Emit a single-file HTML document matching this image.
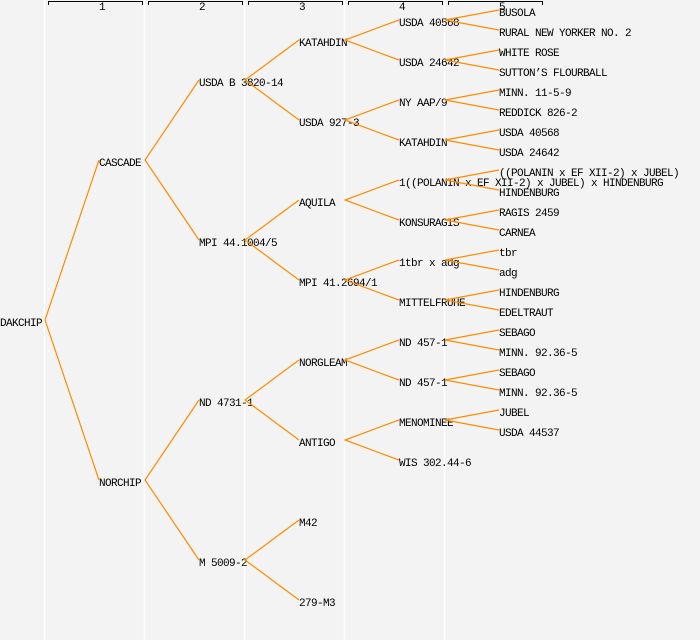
<!DOCTYPE html>
<html><head><meta charset="utf-8"><style>
html,body{margin:0;padding:0;background:#f3f3f3;}
svg{display:block}
text{font-family:"Liberation Mono","DejaVu Sans Mono",monospace;font-size:11px;letter-spacing:-0.6px;fill:#000}
</style></head><body>
<svg width="700" height="640" viewBox="0 0 700 640" xmlns="http://www.w3.org/2000/svg">
<rect width="700" height="640" fill="#f3f3f3"/>
<g stroke="#fff" stroke-width="1.5">
<line x1="44.5" y1="0" x2="44.5" y2="640"/><line x1="144.5" y1="0" x2="144.5" y2="640"/>
<line x1="244.5" y1="0" x2="244.5" y2="640"/><line x1="344.5" y1="0" x2="344.5" y2="640"/>
<line x1="444.5" y1="0" x2="444.5" y2="640"/>
</g>
<g stroke="#000" stroke-width="1" fill="none">
<path d="M48.5 5V1.5H142.5V5"/><path d="M148.5 5V1.5H242.5V5"/><path d="M248.5 5V1.5H342.5V5"/>
<path d="M348.5 5V1.5H442.5V5"/><path d="M448.5 5V1.5H542.5V5"/>
</g>
<g style="font-size:8px;letter-spacing:0" text-anchor="middle">
<text x="102" y="10">1</text><text x="202" y="10">2</text><text x="302" y="10">3</text><text x="402" y="10">4</text><text x="502" y="10">5</text>
</g>
<text x="0" y="326">DAKCHIP</text>
<text x="99" y="166">CASCADE</text><text x="99" y="486">NORCHIP</text>
<text x="199" y="86">USDA B 3820-14</text><text x="199" y="246">MPI 44.1004/5</text>
<text x="199" y="406">ND 4731-1</text><text x="199" y="566">M 5009-2</text>
<text x="299" y="46">KATAHDIN</text><text x="299" y="126">USDA 927-3</text>
<text x="299" y="206">AQUILA</text><text x="299" y="286">MPI 41.2694/1</text>
<text x="299" y="366">NORGLEAM</text><text x="299" y="446">ANTIGO</text>
<text x="299" y="526">M42</text><text x="299" y="606">279-M3</text>
<text x="399" y="26">USDA 40568</text><text x="399" y="66">USDA 24642</text>
<text x="399" y="106">NY AAP/9</text><text x="399" y="146">KATAHDIN</text>
<text x="399" y="186">1((POLANIN x EF XII-2) x JUBEL) x HINDENBURG</text><text x="399" y="226">KONSURAGIS</text>
<text x="399" y="266">1tbr x adg</text><text x="399" y="306">MITTELFRUHE</text>
<text x="399" y="346">ND 457-1</text><text x="399" y="386">ND 457-1</text>
<text x="399" y="426">MENOMINEE</text><text x="399" y="466">WIS 302.44-6</text>
<text x="499" y="16">BUSOLA</text><text x="499" y="36">RURAL NEW YORKER NO. 2</text>
<text x="499" y="56">WHITE ROSE</text><text x="499" y="76">SUTTON’S FLOURBALL</text>
<text x="499" y="96">MINN. 11-5-9</text><text x="499" y="116">REDDICK 826-2</text>
<text x="499" y="136">USDA 40568</text><text x="499" y="156">USDA 24642</text>
<text x="499" y="176">((POLANIN x EF XII-2) x JUBEL)</text><text x="499" y="196">HINDENBURG</text>
<text x="499" y="216">RAGIS 2459</text><text x="499" y="236">CARNEA</text>
<text x="499" y="256">tbr</text><text x="499" y="276">adg</text>
<text x="499" y="296">HINDENBURG</text><text x="499" y="316">EDELTRAUT</text>
<text x="499" y="336">SEBAGO</text><text x="499" y="356">MINN. 92.36-5</text>
<text x="499" y="376">SEBAGO</text><text x="499" y="396">MINN. 92.36-5</text>
<text x="499" y="416">JUBEL</text><text x="499" y="436">USDA 44537</text>
<g stroke="#ff8c00" stroke-width="1.2" fill="none">
<path d="M99 160L45 320L99 480"/>
<path d="M199 80L145 160L199 240"/><path d="M199 400L145 480L199 560"/>
<path d="M299 40L245 80L299 120"/><path d="M299 200L245 240L299 280"/>
<path d="M299 360L245 400L299 440"/><path d="M299 520L245 560L299 600"/>
<path d="M399 20L345 40L399 60"/><path d="M399 100L345 120L399 140"/>
<path d="M399 180L345 200L399 220"/><path d="M399 260L345 280L399 300"/>
<path d="M399 340L345 360L399 380"/><path d="M399 420L345 440L399 460"/>
<path d="M499 10L445 20L499 30"/><path d="M499 50L445 60L499 70"/>
<path d="M499 90L445 100L499 110"/><path d="M499 130L445 140L499 150"/>
<path d="M499 170L445 180L499 190"/><path d="M499 210L445 220L499 230"/>
<path d="M499 250L445 260L499 270"/><path d="M499 290L445 300L499 310"/>
<path d="M499 330L445 340L499 350"/><path d="M499 370L445 380L499 390"/>
<path d="M499 410L445 420L499 430"/>
</g>
</svg>
</body></html>
